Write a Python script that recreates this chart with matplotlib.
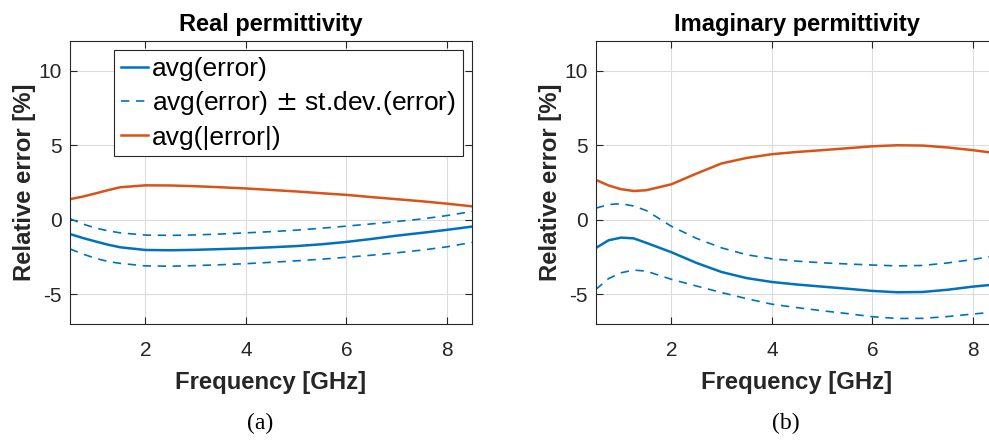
import numpy as np
import matplotlib
matplotlib.use("Agg")
import matplotlib.pyplot as plt

plt.rcParams['font.family'] = ['Liberation Sans', 'DejaVu Sans']
plt.rcParams['axes.unicode_minus'] = False

# ============================================================================
# values (frequency in GHz, relative error in %)
freq = [0.5, 0.75, 1.0, 1.25, 1.5, 2.0, 2.5, 3.0, 3.5, 4.0, 4.5, 5.0, 5.5,
        6.0, 6.5, 7.0, 7.5, 8.0, 8.5]

real_avg = [-0.96, -1.22, -1.45, -1.67, -1.85, -2.03, -2.05, -2.02, -1.97,
            -1.92, -1.85, -1.77, -1.65, -1.49, -1.29, -1.07, -0.88, -0.68,
            -0.46]
real_upper = [0.07, -0.28, -0.55, -0.74, -0.88, -1.03, -1.05, -1.02, -0.96,
              -0.88, -0.80, -0.70, -0.57, -0.43, -0.28, -0.12, 0.05, 0.28,
              0.55]
real_lower = [-1.96, -2.30, -2.58, -2.80, -2.93, -3.10, -3.12, -3.08, -3.02,
              -2.95, -2.86, -2.76, -2.65, -2.52, -2.38, -2.22, -2.04, -1.82,
              -1.52]
real_abs = [1.38, 1.55, 1.76, 1.98, 2.18, 2.31, 2.30, 2.25, 2.18, 2.10,
            2.00, 1.90, 1.78, 1.67, 1.52, 1.38, 1.24, 1.08, 0.90]

imag_avg = [-1.89, -1.38, -1.20, -1.25, -1.55, -2.18, -2.90, -3.51, -3.92,
            -4.18, -4.35, -4.49, -4.63, -4.78, -4.87, -4.85, -4.70, -4.49,
            -4.33]
imag_upper = [0.78, 1.02, 1.08, 0.92, 0.62, -0.44, -1.25, -1.89, -2.35,
              -2.62, -2.78, -2.89, -2.97, -3.04, -3.10, -3.07, -2.90, -2.67,
              -2.38]
imag_lower = [-4.67, -3.95, -3.56, -3.38, -3.45, -4.00, -4.45, -4.89, -5.30,
              -5.67, -5.90, -6.11, -6.30, -6.51, -6.63, -6.62, -6.50, -6.33,
              -6.18]
imag_abs = [2.67, 2.30, 2.05, 1.93, 1.98, 2.38, 3.10, 3.78, 4.15, 4.40,
            4.55, 4.67, 4.80, 4.93, 5.00, 4.98, 4.85, 4.67, 4.45]

titles = ["Real permittivity", "Imaginary permittivity"]
panel_tags = ["(a)", "(b)"]
legend_labels = ["avg(error)", r"avg(error) $\pm$ st.dev.(error)",
                 "avg(|error|)"]

# ============================================================================
BLUE = "#0072BD"
ORANGE = "#D95319"
AX_COLOR = "#262626"

fig = plt.figure(figsize=(9.89, 4.41), dpi=100)
W, H = 989, 441
ax_w, ax_h = 402, 283
lefts = [70, 596]
top = 41

panels = [(real_avg, real_upper, real_lower, real_abs),
          (imag_avg, imag_upper, imag_lower, imag_abs)]

for i, (avg, up, lo, ab) in enumerate(panels):
    ax = fig.add_axes([lefts[i] / W, 1 - (top + ax_h) / H, ax_w / W, ax_h / H])
    l1, = ax.plot(freq, avg, color=BLUE, lw=1.8)
    l2, = ax.plot(freq, up, color=BLUE, lw=1.2, ls=(0, (5, 4)))
    ax.plot(freq, lo, color=BLUE, lw=1.2, ls=(0, (5, 4)))
    l3, = ax.plot(freq, ab, color=ORANGE, lw=1.8)

    ax.set_xlim(0.5, 8.5)
    ax.set_ylim(-7, 12)
    ax.set_xticks([2, 4, 6, 8])
    ax.set_yticks([-5, 0, 5, 10])
    ax.grid(True, color="#dcdcdc", lw=0.8)
    ax.set_axisbelow(True)
    ax.tick_params(direction="in", top=True, right=True, length=5,
                   width=0.8, labelsize=15, colors=AX_COLOR)
    ax.tick_params(axis="x", pad=12)
    ax.tick_params(axis="y", pad=6)
    for s in ax.spines.values():
        s.set_color(AX_COLOR)
        s.set_linewidth(0.8)

    ax.set_title(titles[i], fontsize=17, fontweight="bold", color="black",
                 pad=7)
    ax.set_xlabel("Frequency [GHz]", fontsize=17.2, fontweight="bold",
                  color=AX_COLOR, labelpad=8)
    ax.set_ylabel("Relative error [%]", fontsize=17.2, fontweight="bold",
                  color=AX_COLOR, labelpad=2)

    fig.text((lefts[i] + 190) / W, 1 - 423 / H, panel_tags[i],
             ha="center", va="center", fontsize=17,
             family="Liberation Serif")

    if i == 0:
        leg = ax.legend([l1, l2, l3], legend_labels, loc="upper right",
                        fontsize=19, handlelength=1.05, handletextpad=0.15,
                        labelspacing=0.32, borderpad=0.25, borderaxespad=0.35,
                        fancybox=False, framealpha=1, edgecolor=AX_COLOR)
        leg.get_frame().set_linewidth(0.8)

fig.savefig("out.png", dpi=100)
